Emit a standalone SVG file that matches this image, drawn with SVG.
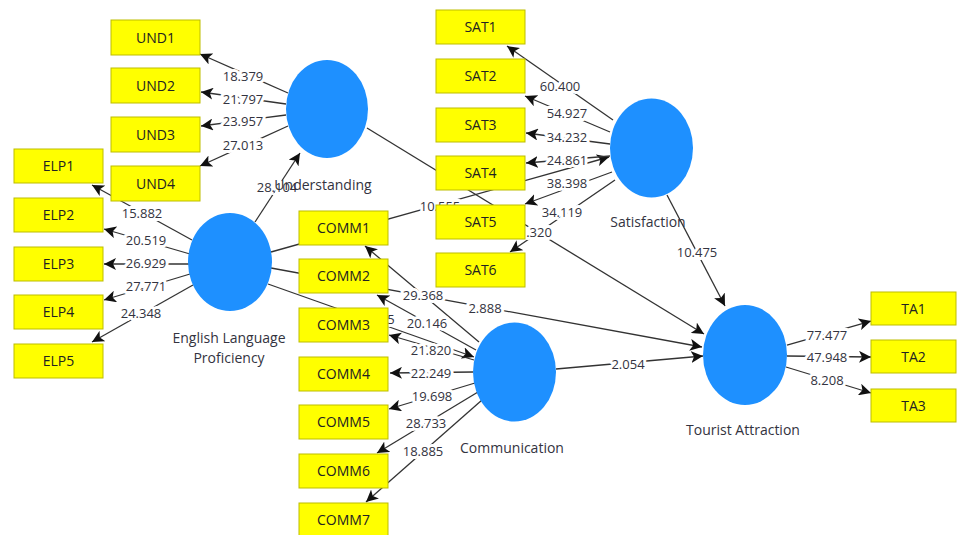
<svg xmlns="http://www.w3.org/2000/svg" width="957" height="535" viewBox="0 0 957 535">
<style>
.bg{fill:#ffffff}
.c{stroke:#333333;stroke-width:1.3;fill:none;marker-end:url(#ah)}
.n{font-family:"Open Sans","Liberation Sans",sans-serif;font-size:13px;fill:#333340;text-anchor:middle;stroke:#ffffff;stroke-width:6;paint-order:stroke;stroke-linejoin:round}
.box{fill:#ffff00;stroke:#bdbd00;stroke-width:1}
.bt{font-family:"Open Sans","Liberation Sans",sans-serif;font-size:14px;fill:#222222;text-anchor:middle}
.lv{fill:#1e90ff}
.lt{font-family:"Open Sans","Liberation Sans",sans-serif;font-size:14px;fill:#333340;text-anchor:middle}
</style>
<defs>
<marker id="ah" markerUnits="userSpaceOnUse" markerWidth="14" markerHeight="12" refX="12" refY="6" orient="auto">
<path d="M0,0 L12,6 L0,12 L3,6 Z" fill="#111111"/>
</marker>
</defs>
<rect class="bg" x="0" y="0" width="957" height="535"/>
<g id="connectors">
<line class="c" x1="255" y1="222" x2="300" y2="153"/>
<line class="c" x1="288" y1="93" x2="200" y2="54"/>
<line class="c" x1="286" y1="104" x2="201" y2="92"/>
<line class="c" x1="286" y1="115" x2="201" y2="126"/>
<line class="c" x1="288" y1="126" x2="200" y2="166"/>
<line class="c" x1="192" y1="240" x2="92" y2="185"/>
<line class="c" x1="190" y1="254" x2="104" y2="229"/>
<line class="c" x1="189" y1="264" x2="104" y2="264"/>
<line class="c" x1="190" y1="274" x2="104" y2="300"/>
<line class="c" x1="193" y1="285" x2="92" y2="342"/>
<line class="c" x1="271" y1="252" x2="609" y2="157"/>
<line class="c" x1="271" y1="268" x2="702" y2="347"/>
<line class="c" x1="268" y1="284" x2="474" y2="357"/>
<line class="c" x1="367" y1="128" x2="704" y2="334"/>
<line class="c" x1="556" y1="369" x2="703" y2="356"/>
<line class="c" x1="667" y1="195" x2="725" y2="306"/>
<line class="c" x1="479" y1="342" x2="365" y2="246"/>
<line class="c" x1="476" y1="350" x2="377" y2="295"/>
<line class="c" x1="474" y1="360" x2="389" y2="335"/>
<line class="c" x1="473" y1="372" x2="390" y2="373"/>
<line class="c" x1="475" y1="383" x2="389" y2="409"/>
<line class="c" x1="478" y1="392" x2="377" y2="453"/>
<line class="c" x1="482" y1="400" x2="366" y2="502"/>
<line class="c" x1="613" y1="120" x2="507" y2="46"/>
<line class="c" x1="610" y1="132" x2="525" y2="96"/>
<line class="c" x1="610" y1="144" x2="526" y2="133"/>
<line class="c" x1="610" y1="156" x2="526" y2="163"/>
<line class="c" x1="612" y1="172" x2="525" y2="204"/>
<line class="c" x1="615" y1="180" x2="510" y2="252"/>
<line class="c" x1="787" y1="345" x2="871" y2="321"/>
<line class="c" x1="787" y1="356" x2="871" y2="357"/>
<line class="c" x1="786" y1="367" x2="871" y2="393"/>
<text class="n" x="277" y="192">28.104</text>
<text class="n" x="243" y="81">18.379</text>
<text class="n" x="243" y="104">21.797</text>
<text class="n" x="243" y="126">23.957</text>
<text class="n" x="243" y="150">27.013</text>
<text class="n" x="142" y="218">15.882</text>
<text class="n" x="146" y="245">20.519</text>
<text class="n" x="146" y="268">26.929</text>
<text class="n" x="146" y="291">27.771</text>
<text class="n" x="141" y="318">24.348</text>
<text class="n" x="440" y="211">10.555</text>
<text class="n" x="539" y="237">.320</text>
<text class="n" x="391" y="324">5</text>
<text class="n" x="485" y="313">2.888</text>
<text class="n" x="628" y="369">2.054</text>
<text class="n" x="697" y="257">10.475</text>
<text class="n" x="423" y="300">29.368</text>
<text class="n" x="427" y="328">20.146</text>
<text class="n" x="431" y="355">21.820</text>
<text class="n" x="431" y="378">22.249</text>
<text class="n" x="432" y="401">19.698</text>
<text class="n" x="426" y="428">28.733</text>
<text class="n" x="423" y="456">18.885</text>
<text class="n" x="560" y="91">60.400</text>
<text class="n" x="567" y="118">54.927</text>
<text class="n" x="567" y="142">34.232</text>
<text class="n" x="567" y="165">24.861</text>
<text class="n" x="567" y="188">38.398</text>
<text class="n" x="562" y="217">34.119</text>
<text class="n" x="827" y="340">77.477</text>
<text class="n" x="827" y="362">47.948</text>
<text class="n" x="827" y="385">8.208</text>
</g>
<g id="understanding"><ellipse class="lv" cx="327" cy="109" rx="41" ry="49"/><text class="lt" x="323" y="190">Understanding</text></g>
<g id="elp"><ellipse class="lv" cx="230" cy="262" rx="42" ry="49"/><text class="lt" x="229" y="343">English Language</text><text class="lt" x="229" y="363">Proficiency</text></g>
<g id="communication"><ellipse class="lv" cx="514.5" cy="372" rx="41.5" ry="49.5"/><text class="lt" x="512" y="453">Communication</text></g>
<g id="satisfaction"><ellipse class="lv" cx="651.5" cy="148" rx="41.5" ry="49.5"/><text class="lt" x="648" y="227">Satisfaction</text></g>
<g id="tourist-attraction"><ellipse class="lv" cx="745" cy="355" rx="42" ry="50"/><text class="lt" x="743" y="435">Tourist Attraction</text></g>
<g id="UND1"><rect class="box" x="111" y="20" width="89" height="35"/><text class="bt" x="155.5" y="42.5">UND1</text></g>
<g id="UND2"><rect class="box" x="111" y="68" width="89" height="35"/><text class="bt" x="155.5" y="90.5">UND2</text></g>
<g id="UND3"><rect class="box" x="111" y="117" width="89" height="35"/><text class="bt" x="155.5" y="139.5">UND3</text></g>
<g id="UND4"><rect class="box" x="111" y="166" width="89" height="35"/><text class="bt" x="155.5" y="188.5">UND4</text></g>
<g id="ELP1"><rect class="box" x="14" y="149" width="89" height="34"/><text class="bt" x="58.5" y="171">ELP1</text></g>
<g id="ELP2"><rect class="box" x="14" y="198" width="89" height="34"/><text class="bt" x="58.5" y="220">ELP2</text></g>
<g id="ELP3"><rect class="box" x="14" y="247" width="89" height="34"/><text class="bt" x="58.5" y="269">ELP3</text></g>
<g id="ELP4"><rect class="box" x="14" y="295" width="89" height="34"/><text class="bt" x="58.5" y="317">ELP4</text></g>
<g id="ELP5"><rect class="box" x="14" y="344" width="89" height="34"/><text class="bt" x="58.5" y="366">ELP5</text></g>
<g id="COMM1"><rect class="box" x="299" y="211" width="89" height="34"/><text class="bt" x="343.5" y="233">COMM1</text></g>
<g id="COMM2"><rect class="box" x="299" y="259" width="89" height="34"/><text class="bt" x="343.5" y="281">COMM2</text></g>
<g id="COMM3"><rect class="box" x="299" y="308" width="89" height="34"/><text class="bt" x="343.5" y="330">COMM3</text></g>
<g id="COMM4"><rect class="box" x="299" y="357" width="89" height="34"/><text class="bt" x="343.5" y="379">COMM4</text></g>
<g id="COMM5"><rect class="box" x="299" y="405" width="89" height="34"/><text class="bt" x="343.5" y="427">COMM5</text></g>
<g id="COMM6"><rect class="box" x="299" y="454" width="89" height="34"/><text class="bt" x="343.5" y="476">COMM6</text></g>
<g id="COMM7"><rect class="box" x="299" y="503" width="89" height="34"/><text class="bt" x="343.5" y="525">COMM7</text></g>
<g id="SAT1"><rect class="box" x="436" y="10" width="89" height="34"/><text class="bt" x="480.5" y="32">SAT1</text></g>
<g id="SAT2"><rect class="box" x="436" y="59" width="89" height="34"/><text class="bt" x="480.5" y="81">SAT2</text></g>
<g id="SAT3"><rect class="box" x="436" y="108" width="89" height="34"/><text class="bt" x="480.5" y="130">SAT3</text></g>
<g id="SAT4"><rect class="box" x="436" y="156" width="89" height="34"/><text class="bt" x="480.5" y="178">SAT4</text></g>
<g id="SAT5"><rect class="box" x="436" y="205" width="89" height="34"/><text class="bt" x="480.5" y="227">SAT5</text></g>
<g id="SAT6"><rect class="box" x="436" y="253" width="89" height="34"/><text class="bt" x="480.5" y="275">SAT6</text></g>
<g id="TA1"><rect class="box" x="871" y="292" width="85" height="33"/><text class="bt" x="913.5" y="313.5">TA1</text></g>
<g id="TA2"><rect class="box" x="871" y="340" width="85" height="33"/><text class="bt" x="913.5" y="361.5">TA2</text></g>
<g id="TA3"><rect class="box" x="871" y="389" width="85" height="33"/><text class="bt" x="913.5" y="410.5">TA3</text></g>
</svg>
